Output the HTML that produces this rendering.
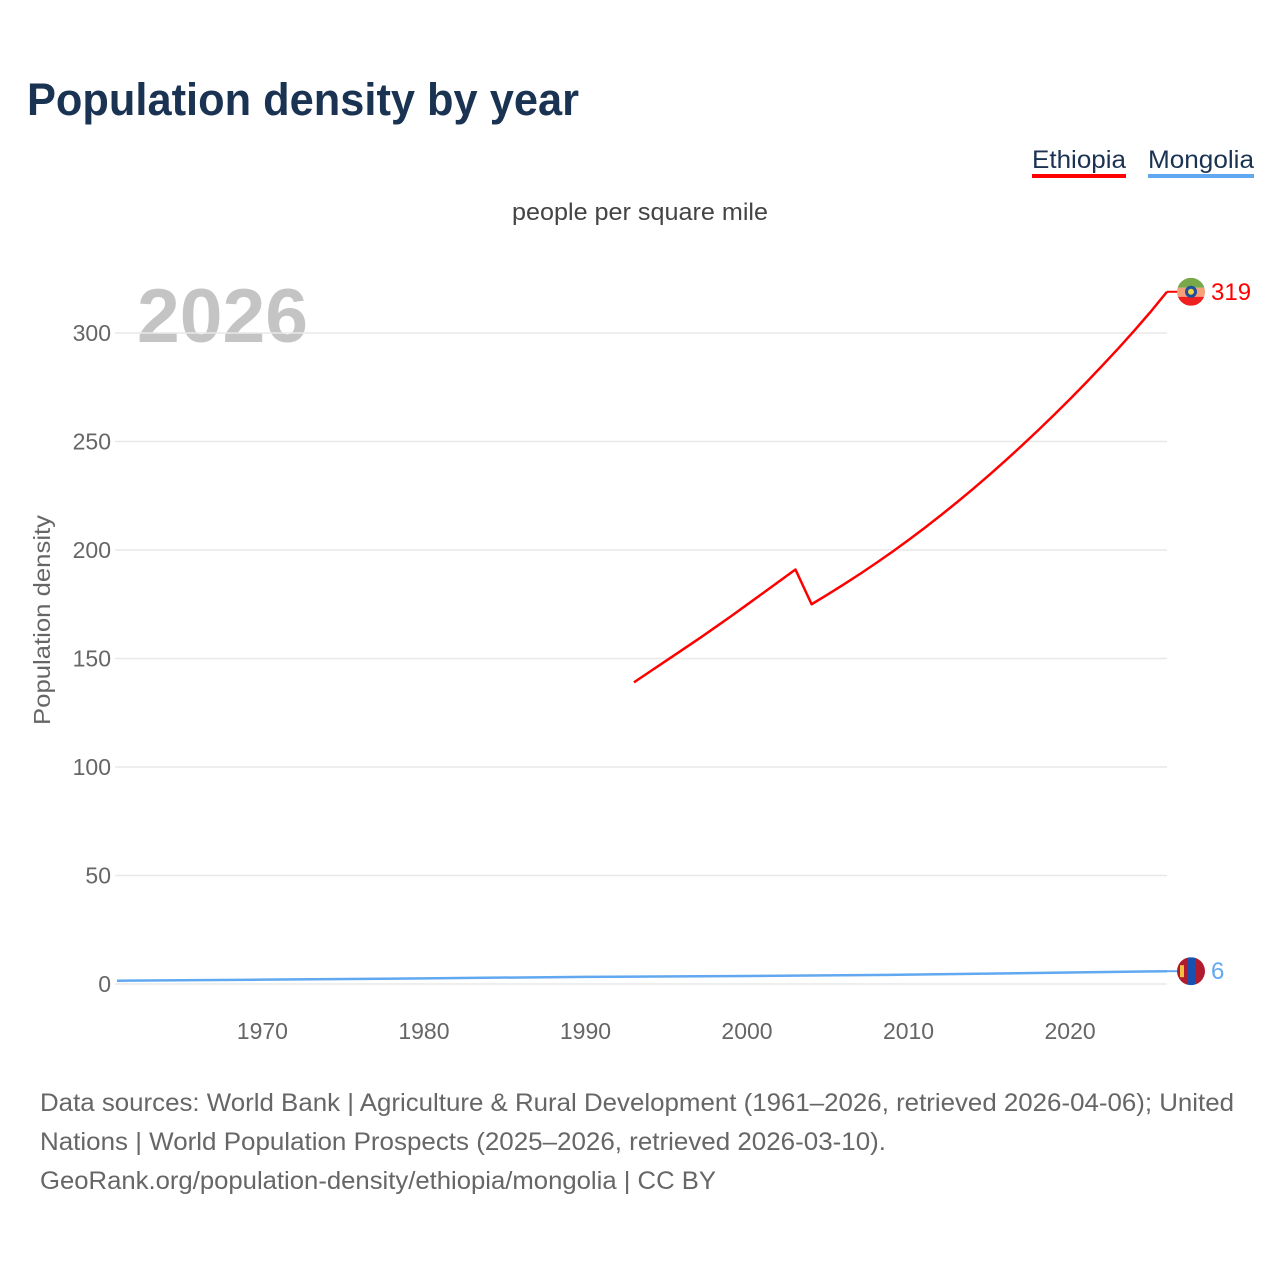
<!DOCTYPE html>
<html><head><meta charset="utf-8"><style>
body{margin:0;background:#fff;font-family:"Liberation Sans",sans-serif;}
svg text{font-family:"Liberation Sans",sans-serif;}
</style></head><body>
<svg width="1280" height="1280" viewBox="0 0 1280 1280" xmlns="http://www.w3.org/2000/svg">
<text x="27" y="115" font-size="45" font-weight="bold" fill="#1b3353" textLength="552" lengthAdjust="spacingAndGlyphs">Population density by year</text>
<g>
<text x="1032" y="168" font-size="25" fill="#1b3353" textLength="94" lengthAdjust="spacingAndGlyphs">Ethiopia</text>
<rect x="1032" y="174" width="94" height="4" fill="#ff0000"/>
<text x="1148" y="168" font-size="25" fill="#1b3353" textLength="106" lengthAdjust="spacingAndGlyphs">Mongolia</text>
<rect x="1148" y="174" width="106" height="4" fill="#62a8f0"/>
</g>
<text x="512" y="220" font-size="24" fill="#444" textLength="256" lengthAdjust="spacingAndGlyphs">people per square mile</text>
<text x="137" y="342" font-size="76" font-weight="bold" fill="#c4c4c4" textLength="171" lengthAdjust="spacingAndGlyphs">2026</text>
<text transform="translate(50,620) rotate(-90)" font-size="23" fill="#666" text-anchor="middle" textLength="210" lengthAdjust="spacingAndGlyphs">Population density</text>
<g id="grid"></g><g id="lines"></g>
<g font-size="25" fill="#666">
<text x="40" y="1111" textLength="1194" lengthAdjust="spacingAndGlyphs">Data sources: World Bank | Agriculture &amp; Rural Development (1961–2026, retrieved 2026-04-06); United</text>
<text x="40" y="1150" textLength="846" lengthAdjust="spacingAndGlyphs">Nations | World Population Prospects (2025–2026, retrieved 2026-03-10).</text>
<text x="40" y="1189" textLength="676" lengthAdjust="spacingAndGlyphs">GeoRank.org/population-density/ethiopia/mongolia | CC BY</text>
</g>
</svg>
<script>
const yTicks=[0,50,100,150,200,250,300];
const xTicks=[1970,1980,1990,2000,2010,2020];
const ethYears=[1993,1994,1995,1996,1997,1998,1999,2000,2001,2002,2003,2004,2005,2006,2007,2008,2009,2010,2011,2012,2013,2014,2015,2016,2017,2018,2019,2020,2021,2022,2023,2024,2025,2026];
const ethValues=[139,144,149,154,159,164.2,169.4,174.8,180.2,185.6,191,175,179.5,184.2,189,194,199.2,204.6,210.2,216,222,228.2,234.6,241.2,248,255,262.2,269.6,277.2,285,293,301.3,309.9,319];
const monYears=[1961,1970,1980,1990,2000,2010,2020,2026];
const monValues=[1.5,2.0,2.6,3.3,3.7,4.3,5.3,5.9];
const NS="http://www.w3.org/2000/svg";
const x=y=>117+(y-1961)*(1167-117)/(2026-1961);
const yv=v=>984-v*(984-333)/300;
function mk(t,a,p){const e=document.createElementNS(NS,t);for(const k in a)e.setAttribute(k,a[k]);p.appendChild(e);return e;}
const grid=document.getElementById('grid'),lines=document.getElementById('lines');
yTicks.forEach(t=>{
 const l=mk('line',{x1:115,x2:1167,y1:yv(t),y2:yv(t),stroke:'#e8e8e8','stroke-width':1.5},grid);
 
 
 const tx=mk('text',{x:111,y:yv(t)+8,'font-size':23,fill:'#666','text-anchor':'end'},grid);tx.textContent=t;
 
 
});
xTicks.forEach(t=>{
 const tx=mk('text',{x:x(t),y:1039,'font-size':23,fill:'#666','text-anchor':'middle'},grid);tx.textContent=t;
 
 
});
function series(years,vals,color,name,flagFn){
 const p=mk('polyline',{points:years.map((y,i)=>x(y)+','+yv(vals[i])).join(' '),fill:'none',stroke:color,'stroke-width':2.5,'stroke-linejoin':'round'},lines);
 
 
 const lx=x(years[years.length-1]),ly=yv(vals[vals.length-1]);
 mk('line',{x1:lx,y1:ly,x2:1178,y2:ly,stroke:color,'stroke-width':2},lines);
 const g=mk('g',{},lines);
 
 
 flagFn(g,1191,ly);
 const t=mk('text',{x:1211,y:ly+8,'font-size':24,fill:color},lines);t.textContent=Math.round(vals[vals.length-1]);
 
 
}
series(ethYears,ethValues,'#ff0000','ethiopia',(g,cx,cy)=>{
 mk('clipPath',{id:'ce'},g).appendChild(document.createElementNS(NS,'circle'));
 const c=g.querySelector('clipPath circle');c.setAttribute('cx',cx);c.setAttribute('cy',cy);c.setAttribute('r',14);
 const gg=mk('g',{'clip-path':'url(#ce)'},g);
 mk('rect',{x:cx-14,y:cy-14,width:28,height:10,fill:'#78a84a'},gg);
 mk('rect',{x:cx-14,y:cy-4,width:28,height:9,fill:'#f6a07a'},gg);
 mk('rect',{x:cx-14,y:cy+5,width:28,height:9,fill:'#ee2020'},gg);
 mk('circle',{cx:cx,cy:cy,r:6,fill:'#1a4fa0'},gg);
 mk('circle',{cx:cx,cy:cy,r:3,fill:'#f2d040'},gg);
});
series(monYears,monValues,'#62a8f0','mongolia',(g,cx,cy)=>{
 mk('clipPath',{id:'cm'},g).appendChild(document.createElementNS(NS,'circle'));
 const c=g.querySelector('clipPath circle');c.setAttribute('cx',cx);c.setAttribute('cy',cy);c.setAttribute('r',14);
 const gg=mk('g',{'clip-path':'url(#cm)'},g);
 mk('rect',{x:cx-14,y:cy-14,width:10,height:28,fill:'#b01c2e'},gg);
 mk('rect',{x:cx-4,y:cy-14,width:9,height:28,fill:'#1650b0'},gg);
 mk('rect',{x:cx+5,y:cy-14,width:9,height:28,fill:'#b01c2e'},gg);
 mk('rect',{x:cx-11,y:cy-6,width:4,height:12,fill:'#f2c040'},gg);
});
</script>
</body></html>
